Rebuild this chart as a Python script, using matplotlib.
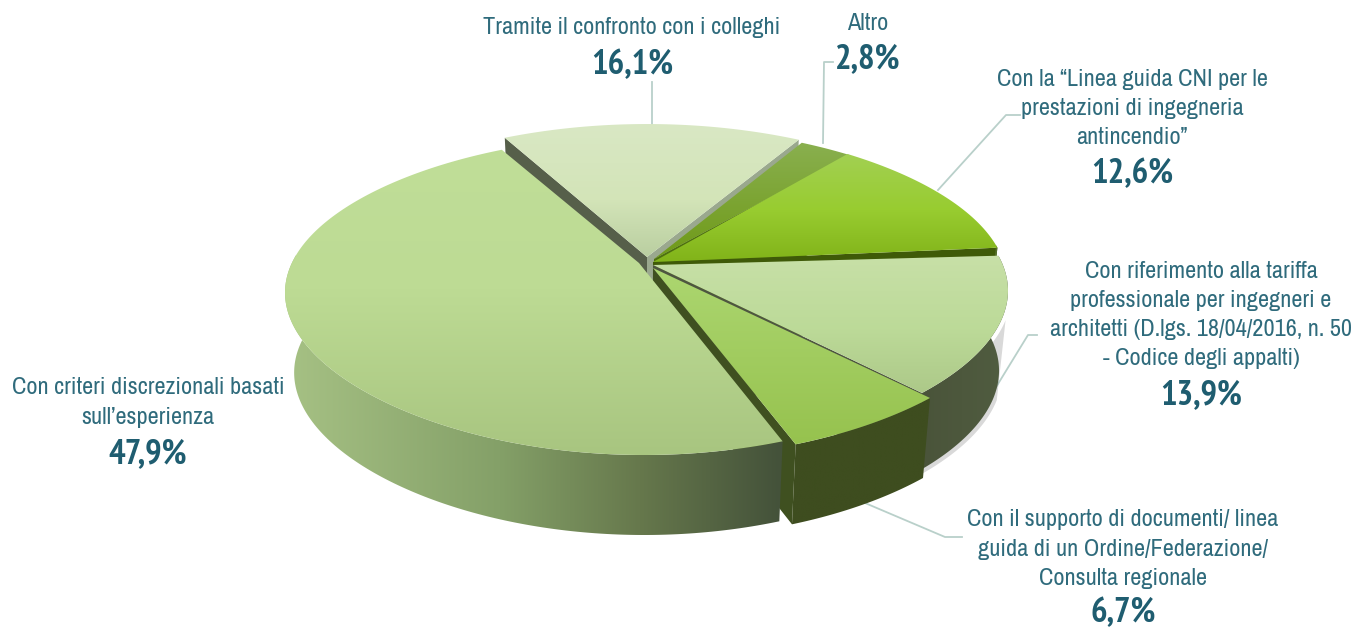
import numpy as np
import matplotlib
matplotlib.use('Agg')
import matplotlib.pyplot as plt
from matplotlib.colors import to_rgb
from matplotlib.patches import Polygon

# data, clockwise from the back left edge
labels = ["Tramite il confronto con i colleghi",
          "Altro",
          "Con la “Linea guida CNI per le\nprestazioni di ingegneria\nantincendio”",
          "Con riferimento alla tariffa\nprofessionale per ingegneri e\narchitetti (D.lgs. 18/04/2016, n. 50\n- Codice degli appalti)",
          "Con il supporto di documenti/ linea\nguida di un Ordine/Federazione/\nConsulta regionale",
          "Con criteri discrezionali basati\nsull’esperienza"]
values = [16.1, 2.8, 12.6, 13.9, 6.7, 47.9]

# explode offsets in px: outer arc and apex of each slice
offsets = [(-3, -7), (0, -4), (-2, -5), (-1, 3), (7, 8), (-6, 5)]
apex_offsets = [(-3, -8), (4, -6), (3, -3), (3, 0), (3, 3), (-11, -2)]

# gradient stops: top faces go by y, outer walls by x
top_stops = [[(125, '#d9e8c4'), (200, '#d3e4b8'), (258, '#b9cea0')],
             [(141, '#8ab050'), (258, '#6f9a18')],
             [(154, '#a2d052'), (210, '#98cc30'), (260, '#82b41a')],
             [(252, '#c8e0a8'), (330, '#bcda98'), (395, '#acc888')],
             [(270, '#acd670'), (446, '#96c24e')],
             [(143, '#c0de98'), (290, '#bddb94'), (455, '#a8c580')]]
wall_stops = [[(500, '#55604a'), (800, '#55604a')],
              [(800, '#55702a'), (850, '#55702a')],
              [(850, '#55702a'), (1000, '#55702a')],
              [(920, '#4a543a'), (1005, '#505c40')],
              [(775, '#3e4d1f'), (935, '#3e4d1f')],
              [(287, '#a6c184'), (500, '#84a068'), (640, '#66784c'), (780, '#44523a')]]
# colours of the cut faces (first edge, second edge)
cut_colors = [('#565f4a', '#9aa88e'), ('#4e7010', '#4e7010'), ('#3f5a08', '#3f5a08'),
              ('#4e5640', '#4e5640'), ('#3f5020', '#3f5020'), ('#44523a', '#44523a')]

start_angle = 118
cx, cy = 650, 265
rx, ry, persp = 355, 155.4, 0.16
depth, shrink = 80, 0.975
text_color = '#2f6b7c'
pct_color = '#1f5d70'
line_color = '#b9d0ca'
font = ['Archivo Narrow', 'Roboto Condensed', 'Liberation Sans']
pct_font = ['PT Sans Narrow', 'Roboto Condensed', 'Liberation Sans']


def project(theta, off):
    x = np.cos(theta)
    y = np.sin(theta)
    sx = 1 / (1 + (0.155 + 0.045 * y) * y)
    sy = 1 / (1 + persp * y)
    return np.column_stack([cx + rx * x * sx + off[0], cy - ry * y * sy + off[1]])


def drop(pts):
    # same points on the bottom of the disc
    out = np.array(pts, dtype=float)
    out[:, 0] = cx + (out[:, 0] - cx) * shrink
    out[:, 1] = out[:, 1] + depth
    return out


def gradient(pts, stops, ax, z, vertical=True):
    poly = Polygon(pts, closed=True, fc='none', ec='none', transform=ax.transData)
    ax.add_patch(poly)
    pos = [p for p, c in stops]
    cols = np.array([to_rgb(c) for p, c in stops])
    lo, hi = pts[:, 1 if vertical else 0].min() - 1, pts[:, 1 if vertical else 0].max() + 1
    t = np.linspace(lo, hi, 256)
    rgb = np.column_stack([np.interp(t, pos, cols[:, i]) for i in range(3)])
    if vertical:
        img = rgb[:, None, :]
        ext = [pts[:, 0].min() - 1, pts[:, 0].max() + 1, hi, lo]
    else:
        img = rgb[None, :, :]
        ext = [lo, hi, pts[:, 1].max() + 1, pts[:, 1].min() - 1]
    im = ax.imshow(img, extent=ext, aspect='auto', interpolation='bilinear', origin='upper', zorder=z)
    im.set_clip_path(poly)


fig = plt.figure(figsize=(13.59, 6.28), dpi=100)
ax = fig.add_axes([0, 0, 1, 1])

sweeps = np.array(values) / sum(values) * 2 * np.pi
edges = np.radians(start_angle) - np.concatenate([[0], np.cumsum(sweeps)])

z = 2
for i in range(len(values)):
    off = offsets[i]
    th = np.linspace(edges[i], edges[i + 1], 200)
    arc = project(th, off)
    apex = np.array([cx + apex_offsets[i][0], cy + apex_offsets[i][1]], dtype=float)
    face = np.vstack([apex, arc])
    mid = face.mean(axis=0)
    # cut faces, only those that look at the viewer
    for k, end in enumerate([arc[0], arc[-1]]):
        d = end - apex
        side_mid = d[0] * (mid - apex)[1] - d[1] * (mid - apex)[0]
        side_down = d[0] * depth
        if side_mid * side_down < 0:
            quad = np.vstack([apex, end, drop([end])[0], drop([apex])[0]])
            ax.add_patch(Polygon(quad, closed=True, fc=cut_colors[i][k], ec='none', zorder=z))
    # outer wall, front part only
    front = arc[np.sin(th) < 0.1]
    if len(front) > 1:
        wall = np.vstack([front, drop(front)[::-1]])
        # soft shadow on the right hand wall
        if i == 3:
            low = arc[np.sin(th) < -0.3]
            ax.add_patch(Polygon(np.vstack([low, drop(low)[::-1]]) + [3, 3], closed=True,
                                 fc='black', alpha=0.15, ec='none', zorder=1.8))
        gradient(wall, wall_stops[i], ax, z + 0.1, vertical=False)
    gradient(face, top_stops[i], ax, z + 0.2)
    z += 1

# leader lines
leaders = [[(652, 82), (652, 125)],
           [(833, 62), (824, 62), (823, 143)],
           [(1020, 115), (1006, 115), (938, 190)],
           [(1037, 335), (1028, 335), (990, 397)],
           [(962, 537), (945, 537), (865, 503)]]
for pts in leaders:
    xs, ys = zip(*pts)
    ax.plot(xs, ys, color=line_color, lw=1.3, zorder=1.5)

# label boxes: centre x, centre y of first line, y of the percentage
label_pos = [(632, 28, 65), (868, 23, 59), (1132, 79, 174), (1201, 271, 395),
             (1123, 520, 613), (148, 388, 454)]
line_gap = 29.2
for lab, val, (tx, ty, py) in zip(labels, values, label_pos):
    for n, row in enumerate(lab.split('\n')):
        ax.text(tx, ty + n * line_gap, row, ha='center', va='center', fontsize=17.5,
                color=text_color, family=font)
    ax.text(tx, py, f"{val:.1f}%".replace('.', ','), ha='center', va='center',
            fontsize=25, fontweight='bold', color=pct_color, family=pct_font)

ax.set_xlim(0, 1359)
ax.set_ylim(628, 0)
ax.axis('off')
fig.savefig('out.png', dpi=100, facecolor='white')
